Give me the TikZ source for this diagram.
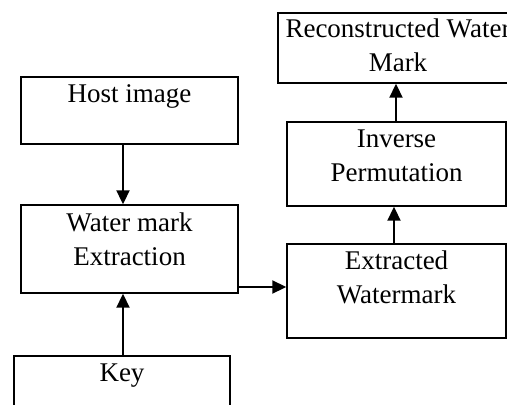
\documentclass[tikz,border=0pt]{standalone}
\usepackage{fontspec}
\setmainfont{Liberation Serif}
\usetikzlibrary{arrows.meta,calc}
\tikzset{
  boxnode/.style={draw=black, line width=1.4pt, inner sep=0pt, rectangle},
  lbl/.style={anchor=base, inner sep=0pt, font=\fontsize{27}{34.5}\selectfont},
  arr/.style={line width=1.9pt, -{Triangle[length=14pt,width=13pt]}}
}
\newcommand{\twoline}[2]{\begin{tabular}[t]{@{}c@{}}#1\\#2\end{tabular}}
\begin{document}
\begin{tikzpicture}[x=1pt,y=-1pt]
\useasboundingbox (0,0) rectangle (507,405);
\clip (0,0) rectangle (507,405);
% boxes
\node[boxnode, minimum width=217pt, minimum height=67pt] (host) at (129.5,110.5) {};
\node[boxnode, minimum width=217pt, minimum height=88pt] (wme) at (129.5,249) {};
\node[boxnode, minimum width=216pt, minimum height=90pt] (key) at (122,401) {};
\node[boxnode, minimum width=219pt, minimum height=94pt] (ext) at (396.5,291) {};
\node[boxnode, minimum width=219pt, minimum height=84pt] (inv) at (396.5,164) {};
\node[boxnode, minimum width=240pt, minimum height=70pt] (rec) at (398,48) {};
% labels
\node[lbl] (thost) at ($(host.north)+(0,26)$) {Host image};
\node[lbl] (twme) at ($(wme.north)+(0,27)$) {\twoline{Water mark}{Extraction}};
\node[lbl] (tkey) at ($(key.north)+(0,26)$) {Key};
\node[lbl] (text) at ($(ext.north)+(0,26)$) {\twoline{Extracted}{Watermark}};
\node[lbl] (tinv) at ($(inv.north)+(0,26)$) {\twoline{Inverse}{Permutation}};
\node[lbl] (trec) at ($(rec.north)+(0,25)$) {\twoline{Reconstructed Water}{Mark}};
% connectors
\coordinate (cl) at (123,0);
\coordinate (cm) at (0,287);
\coordinate (ce) at (394,0);
\coordinate (ci) at (396,0);
\draw[arr] (host.south -| cl) -- (wme.north -| cl);
\draw[arr] (key.north -| cl) -- (wme.south -| cl);
\draw[arr] (wme.east |- cm) -- (ext.west |- cm);
\draw[arr] (ext.north -| ce) -- (inv.south -| ce);
\draw[arr] (inv.north -| ci) -- (rec.south -| ci);
\end{tikzpicture}
\end{document}
